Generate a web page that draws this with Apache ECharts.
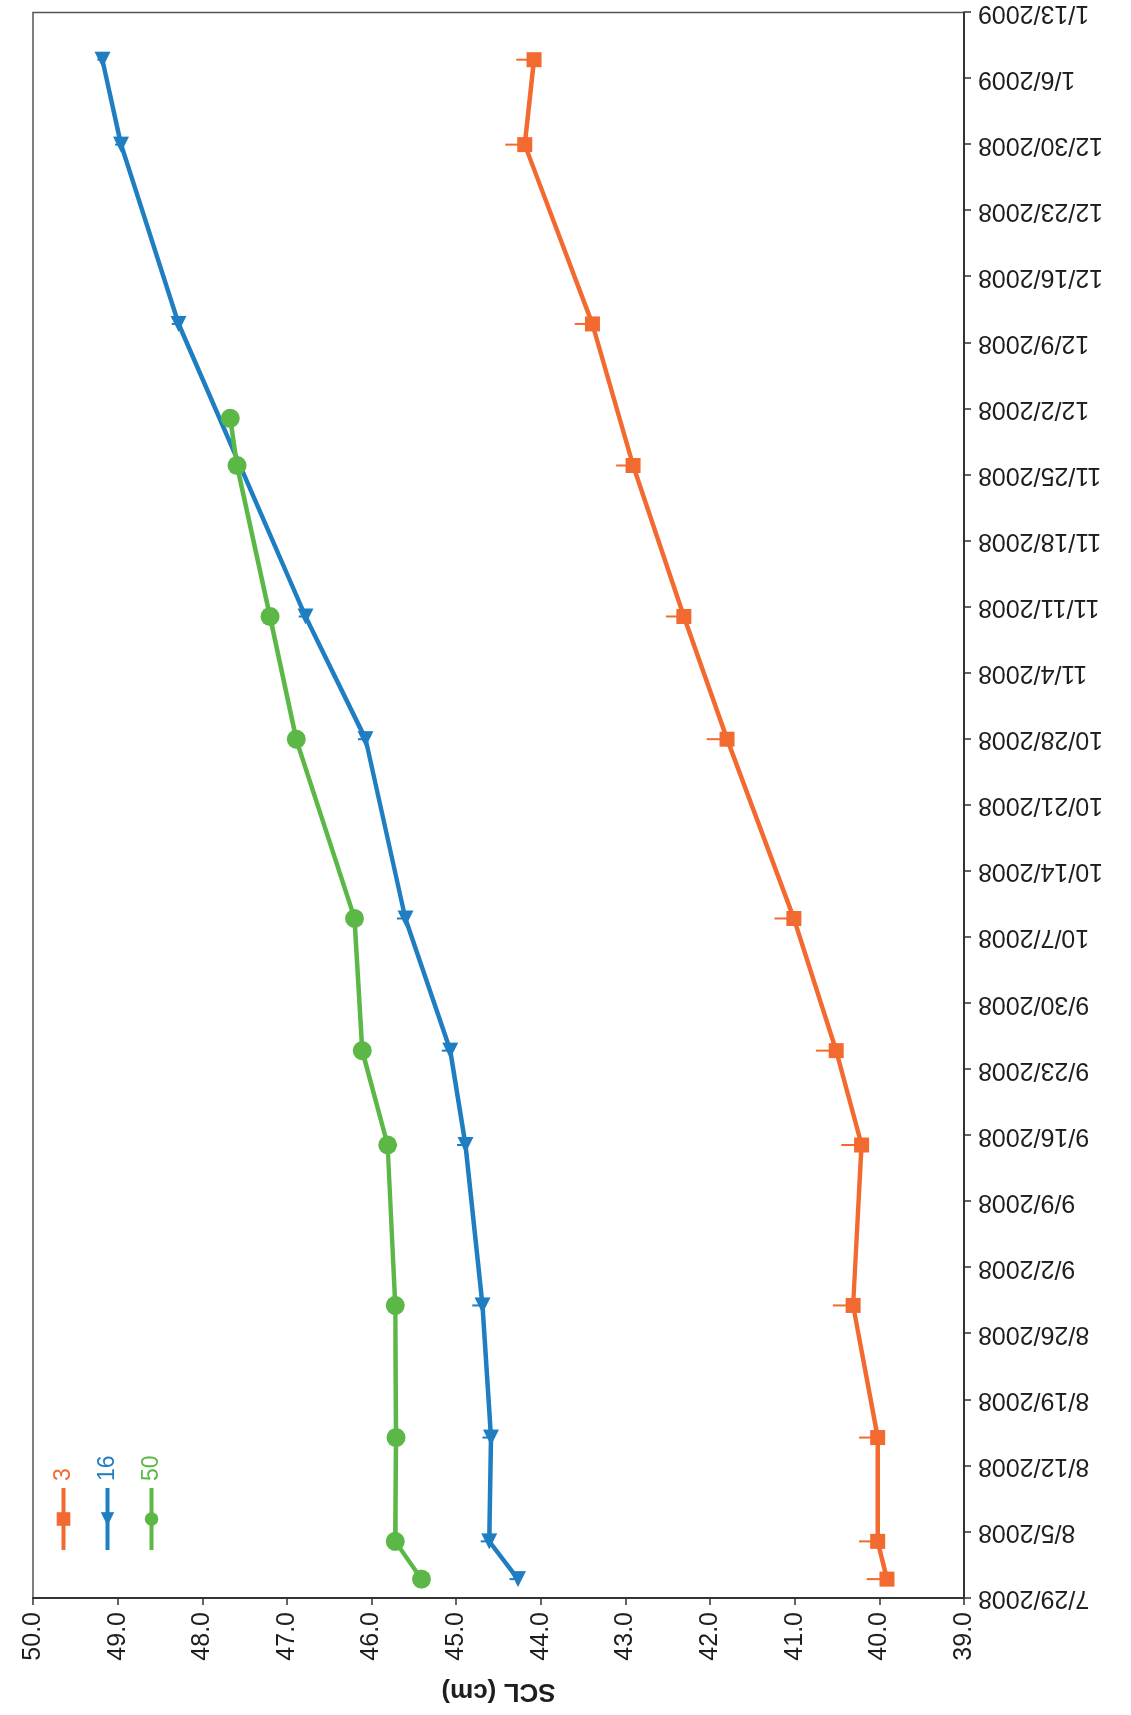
<!DOCTYPE html>
<html>
<head>
<meta charset="utf-8">
<title>SCL (cm)</title>
<script src="https://cdn.jsdelivr.net/npm/echarts@6/dist/echarts.min.js"></script>
<style>
  html, body { margin: 0; padding: 0; background: #ffffff; overflow: hidden; }
  /* The chart is laid out landscape and turned a quarter turn counter-clockwise on the page */
  #chart {
    position: absolute; left: 0; top: 0;
    width: 1715px; height: 1131px;
    transform-origin: 0 0;
    transform: translate(0, 1715px) rotate(-90deg);
  }
</style>
</head>
<body>
<div id="chart"></div>
<script>
// Weekly tick labels along the date axis (tick 0 = 7/29/2008)
const tickLabels = ['7/29/2008','8/5/2008','8/12/2008','8/19/2008','8/26/2008','9/2/2008','9/9/2008',
  '9/16/2008','9/23/2008','9/30/2008','10/7/2008','10/14/2008','10/21/2008','10/28/2008','11/4/2008',
  '11/11/2008','11/18/2008','11/25/2008','12/2/2008','12/9/2008','12/16/2008','12/23/2008',
  '12/30/2008','1/6/2009','1/13/2009'];
const startDate = '2008-07-29';

// Group "3"
const dates3 = ['2008-07-31','2008-08-04','2008-08-15','2008-08-29','2008-09-15','2008-09-25',
  '2008-10-09','2008-10-28','2008-11-10','2008-11-26','2008-12-11','2008-12-30','2009-01-08'];
const scl3 = [39.91, 40.02, 40.02, 40.31, 40.21, 40.51, 41.01, 41.80, 42.31, 42.91, 43.39, 44.19, 44.08];
const err3 = [0.24, 0.22, 0.22, 0.24, 0.24, 0.24, 0.23, 0.24, 0.21, 0.20, 0.21, 0.23, 0.21];

// Group "16"
const dates16 = ['2008-07-31','2008-08-04','2008-08-15','2008-08-29','2008-09-15','2008-09-25',
  '2008-10-09','2008-10-28','2008-11-10','2008-12-11','2008-12-30','2009-01-08'];
const scl16 = [44.27, 44.61, 44.59, 44.69, 44.89, 45.07, 45.60, 46.07, 46.78, 48.28, 48.96, 49.18];
const err16 = [0.10, 0.10, 0.10, 0.12, 0.10, 0.10, 0.10, 0.09, 0.08, 0.08, 0.07, 0.06];

// Group "50"
const dates50 = ['2008-07-31','2008-08-04','2008-08-15','2008-08-29','2008-09-15','2008-09-25',
  '2008-10-09','2008-10-28','2008-11-10','2008-11-26','2008-12-01'];
const scl50 = [45.41, 45.72, 45.71, 45.72, 45.81, 46.11, 46.20, 46.89, 47.20, 47.59, 47.67];

const names = ['3', '16', '50'];
const colors = ['#F26A30', '#1F7EC2', '#5CB846'];

const DAY = 86400000;
const dayOffset = d => Math.round((Date.parse(d) - Date.parse(startDate)) / DAY);
const points = (dates, vals) => dates.map((d, i) => [dayOffset(d), vals[i]]);
const bars = (dates, vals, errs) => dates.map((d, i) => [dayOffset(d), vals[i], vals[i] + errs[i]]);

const FONT = '"Liberation Sans", Arial, sans-serif';

function errorSeries(data, color) {
  return {
    type: 'custom',
    silent: true,
    z: 1,
    data: data,
    encode: { x: 0, y: [1, 2] },
    renderItem: function (params, api) {
      const p0 = api.coord([api.value(0), api.value(1)]);
      const p1 = api.coord([api.value(0), api.value(2)]);
      return {
        type: 'line',
        shape: { x1: p0[0], y1: p0[1], x2: p1[0], y2: p1[1] },
        style: { stroke: color, lineWidth: 2 }
      };
    }
  };
}

function lineSeries(name, data, color, symbol, size, extra) {
  return Object.assign({
    name: name,
    type: 'line',
    data: data,
    symbol: symbol,
    symbolSize: size,
    showAllSymbol: true,
    z: 3,
    lineStyle: { color: color, width: 4.5 },
    itemStyle: { color: color },
    emphasis: { disabled: true }
  }, extra || {});
}

const chart = echarts.init(document.getElementById('chart'), null, { renderer: 'canvas' });
chart.setOption({
  animation: false,
  backgroundColor: '#ffffff',
  grid: {
    left: 117, right: 12, top: 33, bottom: 167,
    show: true, borderColor: '#555555', borderWidth: 1.5, backgroundColor: 'transparent'
  },
  legend: {
    orient: 'vertical',
    left: 158, top: 47,
    itemWidth: 62, itemHeight: 17, itemGap: 21,
    selectedMode: false,
    lineStyle: { width: 4 },
    data: names.map((n, i) => ({ name: n, textStyle: { color: colors[i] } })),
    textStyle: { fontFamily: FONT, fontSize: 23, padding: [0, 0, 0, 2] }
  },
  xAxis: {
    type: 'value',
    min: 0, max: 168, interval: 7,
    splitLine: { show: false },
    axisLine: { show: true, lineStyle: { color: '#333333', width: 2 } },
    axisTick: { show: true, inside: false, length: 7, lineStyle: { color: '#333333', width: 1.5 } },
    axisLabel: {
      rotate: 90, margin: 14, fontFamily: FONT, fontSize: 25, color: '#1e1e1e',
      showMinLabel: true, showMaxLabel: true,
      formatter: v => tickLabels[Math.round(v / 7)] || ''
    }
  },
  yAxis: {
    type: 'value',
    min: 39, max: 50, interval: 1,
    name: 'SCL (cm)',
    nameLocation: 'middle',
    nameRotate: 90,
    nameGap: 80,
    nameTextStyle: { fontFamily: FONT, fontSize: 26, fontWeight: 'bold', color: '#1e1e1e' },
    splitLine: { show: false },
    axisLine: { show: true, lineStyle: { color: '#333333', width: 2 } },
    axisTick: { show: true, inside: false, length: 7, lineStyle: { color: '#333333', width: 1.5 } },
    axisLabel: {
      margin: 14, fontFamily: FONT, fontSize: 25, color: '#1e1e1e',
      formatter: v => v.toFixed(1)
    }
  },
  series: [
    errorSeries(bars(dates3, scl3, err3), colors[0]),
    errorSeries(bars(dates16, scl16, err16), colors[1]),
    lineSeries(names[0], points(dates3, scl3), colors[0], 'rect', 15),
    lineSeries(names[1], points(dates16, scl16), colors[1], 'triangle', 16, { symbolRotate: 90 }),
    lineSeries(names[2], points(dates50, scl50), colors[2], 'circle', 19, { z: 4 })
  ]
});
</script>
</body>
</html>
